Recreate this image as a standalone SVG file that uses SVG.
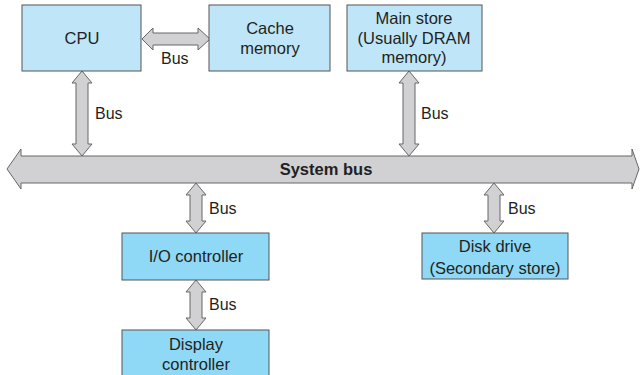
<svg xmlns="http://www.w3.org/2000/svg" width="640" height="375" viewBox="0 0 640 375">
<style>
.top{fill:#bee6f8;stroke:#555;stroke-width:1}
.bot{fill:#8fd8f6;stroke:#555;stroke-width:1}
.arr{fill:#d1d1d3;stroke:#666;stroke-width:1;stroke-linejoin:miter}
text{font-family:"Liberation Sans",Arial,sans-serif;fill:#231f20}
.lbl{font-size:16.5px;text-anchor:middle}
.bus{font-size:16px}
.sys{font-size:16.5px;font-weight:bold;text-anchor:middle}
</style>
<rect width="640" height="375" fill="#fff"/>
<g id="connectors">
<g id="system-bus">
<path class="arr" d="M7,169 L21,149 L21,156 L632,156 L632,149 L639,169 L632,189 L632,183 L21,183 L21,189 Z"/>
<text class="sys" x="326" y="175">System bus</text>
</g>
<path class="arr" d="M142,39 L153,28 L153,33 L198,33 L198,28 L210,39 L198,50 L198,45 L153,45 L153,50 Z"/>
<text class="bus" x="161" y="64">Bus</text>
<path class="arr" d="M82,71 L92,83 L88,83 L88,144 L92,144 L82,156 L72,144 L76,144 L76,83 L72,83 Z"/>
<text class="bus" x="95" y="119">Bus</text>
<path class="arr" d="M409,71 L419,83 L415,83 L415,144 L419,144 L409,156 L399,144 L403,144 L403,83 L399,83 Z"/>
<text class="bus" x="421" y="119">Bus</text>
<path class="arr" d="M196,183 L206,195 L202,195 L202,221 L206,221 L196,233 L186,221 L190,221 L190,195 L186,195 Z"/>
<text class="bus" x="209" y="214">Bus</text>
<path class="arr" d="M494,183 L504,195 L500,195 L500,221 L504,221 L494,233 L484,221 L488,221 L488,195 L484,195 Z"/>
<text class="bus" x="508" y="214">Bus</text>
<path class="arr" d="M196,280 L206,292 L202,292 L202,318 L206,318 L196,330 L186,318 L190,318 L190,292 L186,292 Z"/>
<text class="bus" x="209" y="310">Bus</text>
</g>
<g id="cpu">
<rect class="top" x="22" y="5" width="119" height="66"/>
<text class="lbl" x="82" y="44">CPU</text>
</g>
<g id="cache">
<rect class="top" x="209" y="5" width="121" height="66"/>
<text class="lbl" x="270" y="34">Cache</text>
<text class="lbl" x="270" y="54">memory</text>
</g>
<g id="main-store">
<rect class="top" x="347" y="5" width="135" height="66"/>
<text class="lbl" x="414" y="24">Main store</text>
<text class="lbl" x="414" y="44">(Usually DRAM</text>
<text class="lbl" x="414" y="63">memory)</text>
</g>
<g id="io-controller">
<rect class="bot" x="122" y="233" width="147" height="47"/>
<text class="lbl" x="196" y="262">I/O controller</text>
</g>
<g id="disk-drive">
<rect class="bot" x="422" y="233" width="146" height="46"/>
<text class="lbl" x="495" y="252">Disk drive</text>
<text class="lbl" x="495" y="274">(Secondary store)</text>
</g>
<g id="display-controller">
<rect class="bot" x="122" y="330" width="147" height="50"/>
<text class="lbl" x="196" y="350">Display</text>
<text class="lbl" x="196" y="370">controller</text>
</g>
</svg>
